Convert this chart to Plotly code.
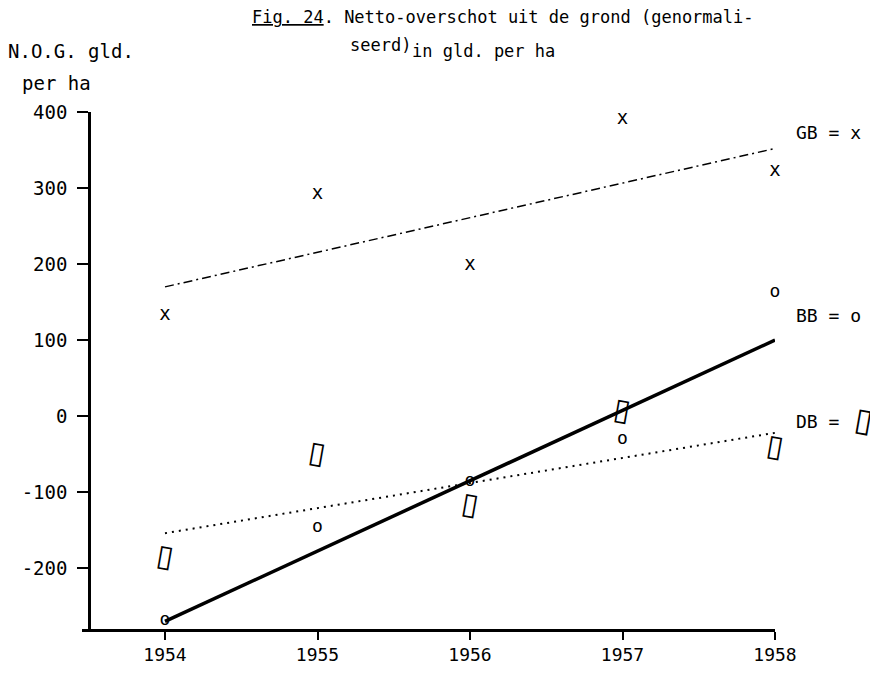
import plotly.graph_objects as go

# data
years = [1954, 1955, 1956, 1957, 1958]
gb_values = [133, 292, 198, 391, 322]
bb_values = [-269, -147, -86, -31, 163]
db_values = [-183, -48, -115, 9, -38]

trend_years = [1954, 1958]
gb_trend = [170, 352]
bb_trend = [-270, 100]
db_trend = [-154, -22]

y_ticks = [400, 300, 200, 100, 0, -100, -200]

# the page body adds an 8px margin, so the figure is drawn 8px smaller
OFF = 8
W, H = 878 - OFF, 677 - OFF
L, R, T, B = 82 - OFF, 878 - 775, 112 - OFF, 677 - 635
FONT = "DejaVu Sans Mono"
BOX = "▯"


def px(x):
    # screenshot pixel -> paper x
    return (x - OFF - L) / (W - L - R)


def py(y):
    # screenshot pixel -> paper y
    return (H - B - (y - OFF)) / (H - T - B)


fig = go.Figure()

# trend lines
fig.add_trace(go.Scatter(x=trend_years, y=gb_trend, mode="lines",
                         line=dict(color="black", width=1.5, dash="9px,4px,2px,4px")))
fig.add_trace(go.Scatter(x=trend_years, y=bb_trend, mode="lines",
                         line=dict(color="black", width=3.5)))
fig.add_trace(go.Scatter(x=trend_years, y=db_trend, mode="lines",
                         line=dict(color="black", width=2, dash="2px,5px")))

# point marks, typed as letters in the original
fig.add_trace(go.Scatter(x=years, y=gb_values, mode="text", text=["x"] * len(years),
                         textfont=dict(family=FONT, size=19, color="black"), cliponaxis=False))
fig.add_trace(go.Scatter(x=years, y=bb_values, mode="text", text=["o"] * len(years),
                         textfont=dict(family=FONT, size=18, color="black"), cliponaxis=False))

ann = []
# DB marks: slanted boxes, placed on the data axes
for yr, v in zip(years, db_values):
    ann.append(dict(text=BOX, x=yr, y=v, xref="x", yref="y", textangle=10,
                    xanchor="center", yanchor="middle", showarrow=False,
                    font=dict(family="DejaVu Sans", size=30, color="black")))

title_font = dict(family=FONT, size=17, color="black")
lbl = []
lbl.append(dict(text="<u>Fig. 24</u>. Netto-overschot uit de grond (genormali-",
                x=px(250), y=py(16), font=title_font))
lbl.append(dict(text="seerd)", x=px(348), y=py(44), font=title_font))
lbl.append(dict(text="in gld. per ha", x=px(410), y=py(50), font=title_font))
lbl.append(dict(text="N.O.G. gld.", x=px(6), y=py(50), font=dict(family=FONT, size=19, color="black")))
lbl.append(dict(text="per ha", x=px(20), y=py(83), font=dict(family=FONT, size=19, color="black")))

legend_font = dict(family=FONT, size=18, color="black")
lbl.append(dict(text="GB = x", x=px(794), y=py(133), font=legend_font))
lbl.append(dict(text="BB = o", x=px(794), y=py(318), font=legend_font))
lbl.append(dict(text="DB = ", x=px(794), y=py(425), font=legend_font))

for a in lbl:
    a.update(xref="paper", yref="paper", xanchor="left", yanchor="middle", showarrow=False)
lbl.append(dict(text=BOX, x=px(864), y=py(424), xref="paper", yref="paper", textangle=10,
                xanchor="center", yanchor="middle", showarrow=False,
                font=dict(family="DejaVu Sans", size=32, color="black")))
ann += lbl

x_start = 1954 - (165 - 82) / 152.5

fig.update_layout(
    width=W, height=H,
    margin=dict(l=L, r=R, t=T, b=B),
    paper_bgcolor="white", plot_bgcolor="white",
    showlegend=False,
    annotations=ann,
    xaxis=dict(range=[x_start, 1958], tickvals=years, ticktext=[str(y) for y in years],
               showgrid=False, zeroline=False, showline=True, linecolor="black", linewidth=2.5,
               ticks="outside", ticklen=8, tickwidth=2, tickcolor="black",
               tickfont=dict(family=FONT, size=18, color="black")),
    yaxis=dict(range=[-280, 400], tickvals=y_ticks, ticktext=[str(v) for v in y_ticks],
               anchor="free", position=(89 - 82) / (878 - 82 - (878 - 775)),
               showgrid=False, zeroline=False, showline=True, linecolor="black", linewidth=2.5,
               ticks="outside", ticklen=11, tickwidth=2, tickcolor="black",
               ticklabelstandoff=6,
               tickfont=dict(family=FONT, size=19, color="black")),
)

fig.write_html("out.html")
